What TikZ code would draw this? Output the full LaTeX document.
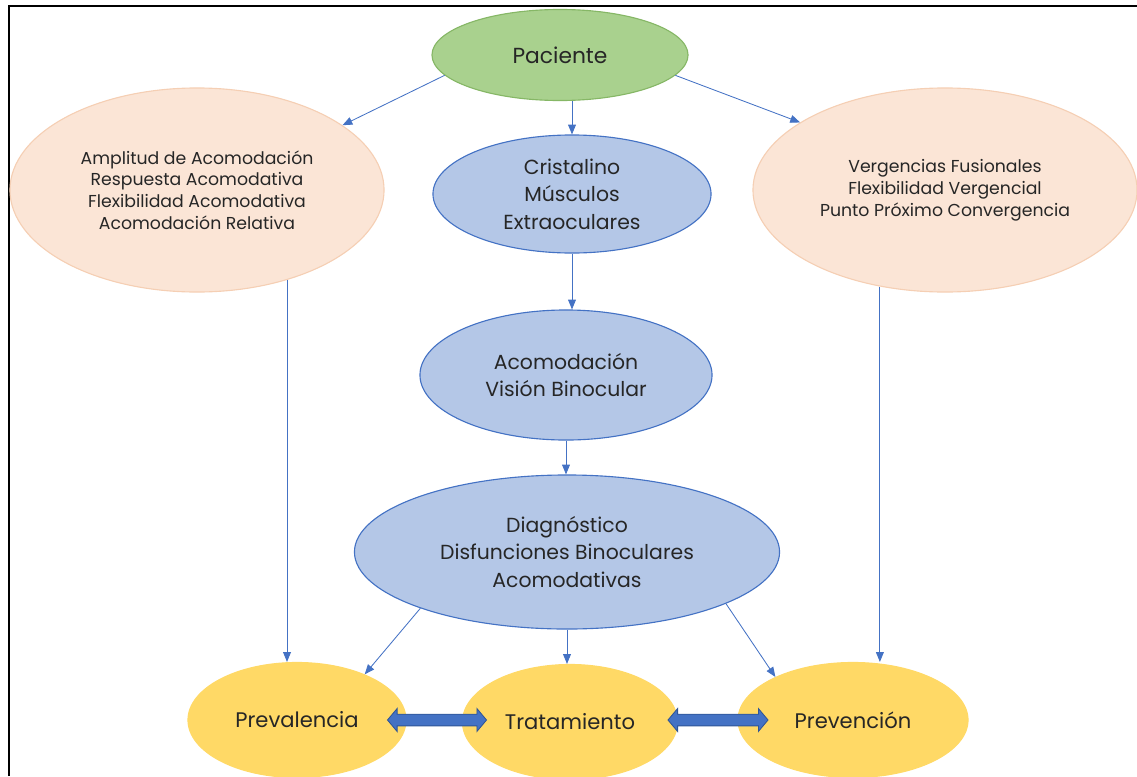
\documentclass[tikz,border=0pt]{standalone}
\usepackage{fontspec}
\setmainfont{Poppins}
\usepackage{tikz}
\usepackage{xcolor}
\usetikzlibrary{shapes.geometric,shapes.arrows,arrows.meta}

\definecolor{verde}{HTML}{A9D18E}
\definecolor{verdeborde}{HTML}{86B766}
\definecolor{durazno}{HTML}{FBE5D6}
\definecolor{duraznoborde}{HTML}{F5CFB4}
\definecolor{celeste}{HTML}{B4C7E7}
\definecolor{azul}{HTML}{4472C4}
\definecolor{azulborde}{HTML}{2F5597}
\definecolor{amarillo}{HTML}{FFD966}
\definecolor{texto}{HTML}{262626}

\begin{document}
\begin{tikzpicture}[x=0.025cm, y=-0.025cm,
    every node/.style={text=texto, align=center, inner sep=0pt},
    elipse/.style={ellipse, line width=0.8pt},
    paciente/.style={elipse, fill=verde, draw=verdeborde, font=\fontsize{15.5}{19}\selectfont},
    medida/.style={elipse, fill=durazno, draw=duraznoborde, font=\fontsize{12.3}{15.5}\selectfont},
    proceso/.style={elipse, fill=celeste, draw=azul, font=\fontsize{14.5}{19.6}\selectfont},
    meta/.style={elipse, fill=amarillo, draw=amarillo, font=\fontsize{15}{19}\selectfont},
    conn/.style={draw=azul, line width=0.6pt, -{Triangle[length=7pt,width=5.6pt]}},
    flecha/.style={double arrow, fill=azul, draw=azulborde, line width=0.6pt,
      inner xsep=0pt, inner ysep=0.135cm, minimum width=0pt,
      double arrow head extend=0.14cm, double arrow tip angle=100}]
  \useasboundingbox (0,0) rectangle (1137,776);
  \draw[line width=1.6pt] (9,776) -- (9,6) -- (1137,6);

  \node[paciente, minimum width=6.4cm, minimum height=2.275cm] (pac) at (560,55) {Paciente};
  \node[medida, minimum width=9.35cm, minimum height=5.1cm] (izq) at (197,190)
    {Amplitud de Acomodación\\Respuesta Acomodativa\\Flexibilidad Acomodativa\\Acomodación Relativa};
  \node[medida, minimum width=9.6cm, minimum height=5.1cm] (der) at (945,190)
    {Vergencias Fusionales\\Flexibilidad Vergencial\\Punto Próximo Convergencia};
  \node[proceso, minimum width=6.95cm, minimum height=2.95cm] (cris) at (572,194)
    {Cristalino\\Músculos\\Extraoculares};
  \node[proceso, minimum width=7.3cm, minimum height=3.25cm] (acom) at (566,375)
    {Acomodación\\Visión Binocular};
  \node[proceso, minimum width=10.625cm, minimum height=3.85cm] (diag) at (567,552)
    {Diagnóstico\\Disfunciones Binoculares\\Acomodativas};
  \node[meta, minimum width=5.45cm, minimum height=2.875cm] (prev) at (297,720) {Prevalencia};
  \node[meta, minimum width=5.375cm, minimum height=2.875cm] (trat) at (570,722) {Tratamiento};
  \node[meta, minimum width=5.75cm, minimum height=2.875cm] (prevn) at (853,720) {Prevención};

  \node[flecha, minimum height=2.475cm] (f1) at (437,720) {};
  \node[flecha, minimum height=2.5cm] (f2) at (718,720) {};

  \draw[conn] (pac.190) -- (izq.24);
  \draw[conn] (pac.350) -- (der.155);
  \draw[conn] (cris.north |- pac.south) -- (cris.north);
  \draw[conn] (cris.south) -- (cris.south |- acom.north);
  \draw[conn] (acom.south) -- (acom.south |- diag.north);
  \draw[conn] (izq.-45) -- (izq.-45 |- prev.north);
  \draw[conn] (der.236) -- (der.236 |- prevn.north);
  \draw[conn] (diag.201) -- (prev.34);
  \draw[conn] (diag.south) -- (diag.south |- trat.north);
  \draw[conn] (diag.342) -- (prevn.151);
\end{tikzpicture}
\end{document}
